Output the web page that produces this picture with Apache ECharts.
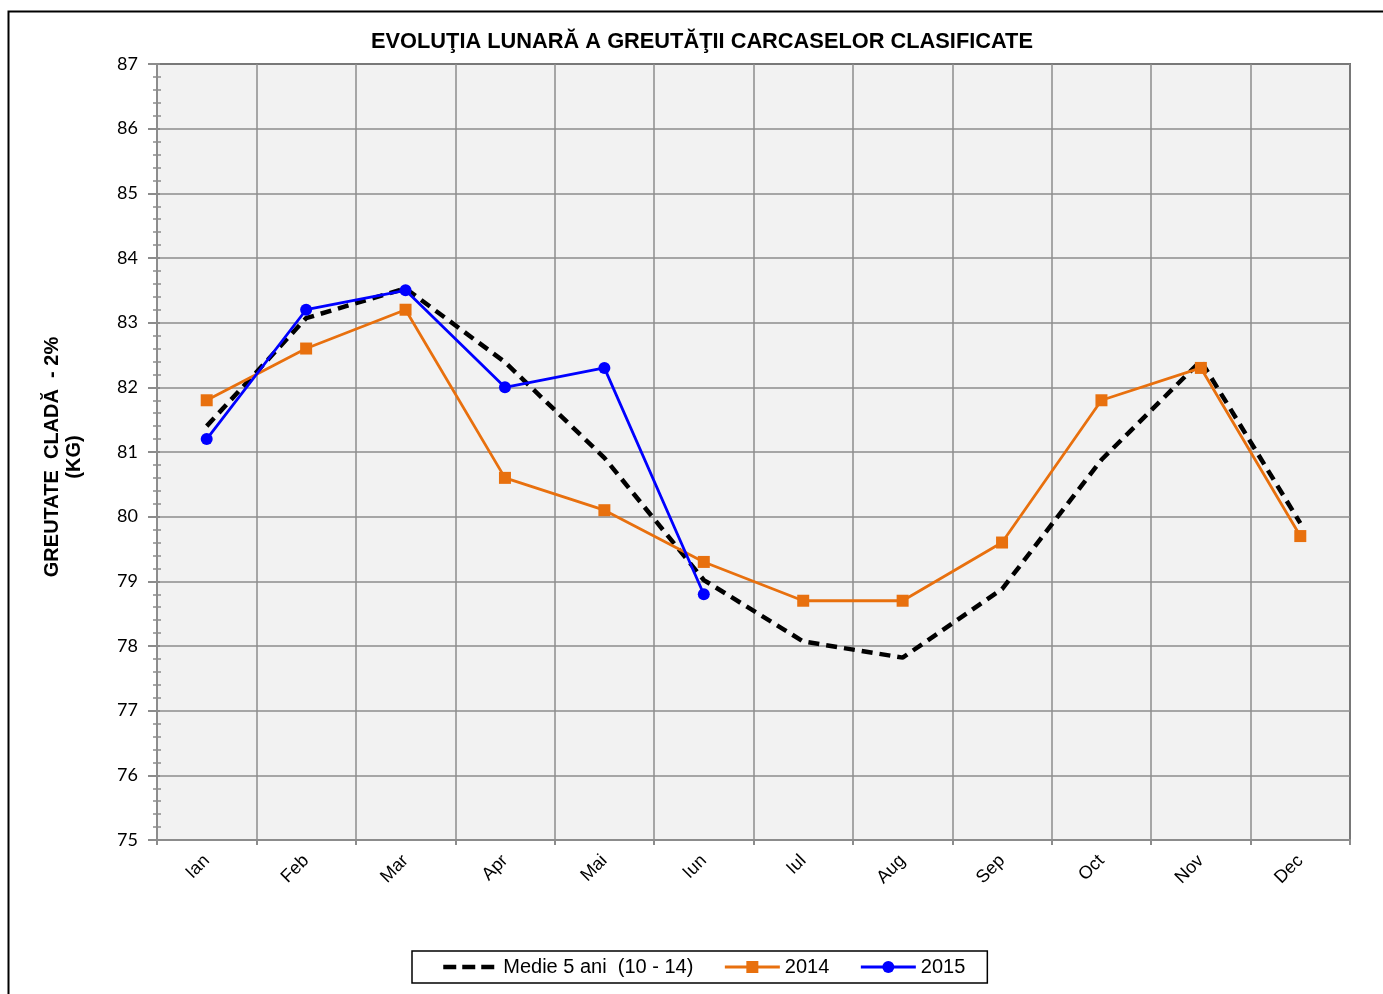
<!DOCTYPE html>
<html>
<head>
<meta charset="utf-8">
<script src="https://cdn.jsdelivr.net/npm/echarts@6/dist/echarts.min.js"></script>
<style>
html,body{margin:0;padding:0;background:#fff;}
#c{width:1383px;height:994px;}
</style>
</head>
<body>
<div id="c"></div>
<script>
const months = ['Ian','Feb','Mar','Apr','Mai','Iun','Iul','Aug','Sep','Oct','Nov','Dec'];
const medie = [81.4, 83.07, 83.53, 82.39, 80.91, 79.02, 78.07, 77.82, 78.88, 80.88, 82.41, 79.9];
const y2014 = [81.8, 82.6, 83.2, 80.6, 80.1, 79.3, 78.7, 78.7, 79.6, 81.8, 82.3, 79.7];
const y2015 = [81.2, 83.2, 83.5, 82.0, 82.3, 78.8, null, null, null, null, null, null];
const seriesNames = ['Medie 5 ani  (10 - 14)', '2014', '2015'];
const yMin = 75, yMax = 87, yStep = 1;

const chart = echarts.init(document.getElementById('c'), null, {renderer: 'canvas'});
const gridC = '#8c8c8c';
chart.setOption({
  animation: false,
  backgroundColor: '#ffffff',
  title: {
    text: 'EVOLUŢIA LUNARĂ A GREUTĂŢII CARCASELOR CLASIFICATE',
    left: 366, top: 26,
    textStyle: {fontFamily: 'Liberation Sans', fontWeight: 'bold', fontSize: 21.8, color: '#000'}
  },
  graphic: [{
    type: 'rect', shape: {x: 8.5, y: 11.5, width: 1500, height: 1100},
    style: {fill: 'none', stroke: '#000', lineWidth: 2}, silent: true, z: -1
  }],
  grid: {
    left: 157, right: 33, top: 64, bottom: 154,
    show: true, backgroundColor: '#f2f2f2', borderColor: '#000', borderWidth: 1.5
  },
  legend: {
    left: 412, top: 951,
    padding: [6, 22, 6, 29],
    borderColor: '#000', borderWidth: 1.5, borderRadius: 0,
    itemWidth: 55, itemHeight: 15, itemGap: 30,
    textStyle: {fontFamily: 'Liberation Sans', fontSize: 20, color: '#000'},
    data: [
      {name: seriesNames[0],
       itemStyle: {color: 'rgba(0,0,0,0)', borderColor: 'rgba(0,0,0,0)', borderWidth: 0, opacity: 0},
       lineStyle: {color: '#000', width: 4.5, type: [13, 6]}},
      {name: seriesNames[1], lineStyle: {color: '#E8700E', width: 3}},
      {name: seriesNames[2], lineStyle: {color: '#0000FF', width: 3}}
    ]
  },
  xAxis: {
    type: 'category', data: months, boundaryGap: true,
    axisLine: {lineStyle: {color: gridC, width: 2}},
    axisTick: {show: true, length: 5, lineStyle: {color: gridC, width: 2}},
    axisLabel: {rotate: 45, fontFamily: 'Liberation Sans', fontSize: 18, color: '#000', margin: 18},
    splitLine: {show: true, lineStyle: {color: gridC, width: 1.5}}
  },
  yAxis: [{
    type: 'value', min: yMin, max: yMax, interval: yStep,
    name: 'GREUTATE  CLADĂ  - 2%\n(KG)',
    nameLocation: 'middle', nameRotate: 90, nameGap: 72,
    nameTextStyle: {fontFamily: 'Liberation Sans', fontWeight: 'bold', fontSize: 20, color: '#000', lineHeight: 22, align: 'center', padding: [0, 10, 0, 0]},
    axisLine: {show: true, lineStyle: {color: gridC, width: 2}},
    axisTick: {show: true, length: 9, lineStyle: {color: gridC, width: 2}},
    minorTick: {show: true, splitNumber: 5, length: 4, lineStyle: {color: gridC, width: 1.5}},
    axisLabel: {fontFamily: 'Lato', fontSize: 18, color: '#000', margin: 19},
    splitLine: {show: true, lineStyle: {color: gridC, width: 1.5}}
  }, {
    type: 'value', min: yMin, max: yMax, interval: yStep, position: 'left',
    axisLine: {show: false},
    axisTick: {show: true, inside: true, length: 3, lineStyle: {color: gridC, width: 2}},
    minorTick: {show: true, splitNumber: 5, length: 4, lineStyle: {color: gridC, width: 1.5}},
    axisLabel: {show: false},
    splitLine: {show: false}
  }],
  series: [{
    name: seriesNames[0], type: 'line', data: medie,
    symbol: 'none', z: 3,
    lineStyle: {color: '#000', width: 4.5, type: [11, 7]},
    itemStyle: {color: '#000'}
  }, {
    name: seriesNames[1], type: 'line', data: y2014,
    symbol: 'rect', symbolSize: 12, z: 4,
    lineStyle: {color: '#E8700E', width: 2.8},
    itemStyle: {color: '#E8700E'}
  }, {
    name: seriesNames[2], type: 'line', data: y2015,
    symbol: 'circle', symbolSize: 12, z: 5,
    lineStyle: {color: '#0000FF', width: 2.8},
    itemStyle: {color: '#0000FF'}
  }]
});
</script>
</body>
</html>
